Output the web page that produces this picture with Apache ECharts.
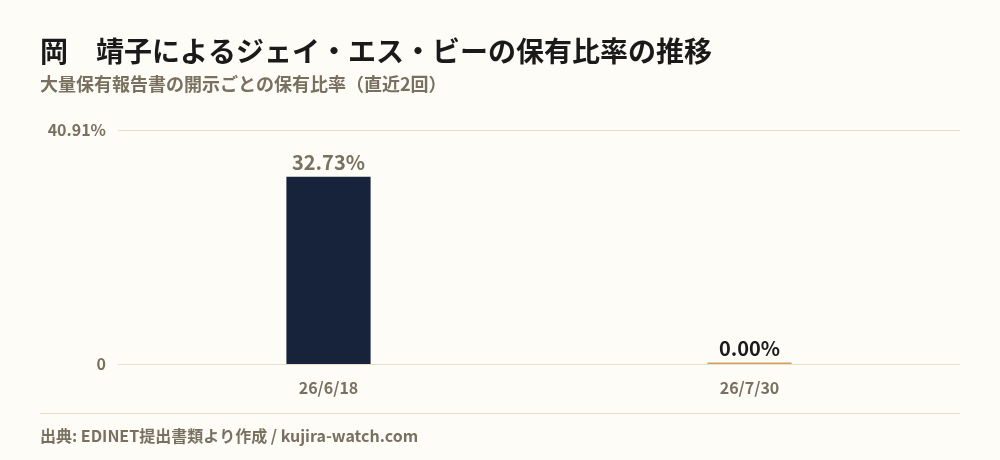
<!DOCTYPE html>
<html><head><meta charset="utf-8">
<script src="https://cdn.jsdelivr.net/npm/echarts@6/dist/echarts.min.js"></script>
<style>html,body{margin:0;padding:0;background:#fdfcf7;}#c{width:1000px;height:460px;}</style>
</head><body><div id="c"></div>
<script>
const categories = ['26/6/18', '26/7/30'];
const values = [32.73, 0.00];
const barColors = ['#17223b', '#d4a25e'];
const labelColors = ['#7a7060', '#1a1a1a'];
const axisMax = 40.91;
const yTickLabels = ['0', '40.91%'];

const chart = echarts.init(document.getElementById('c'));
const font = '"Noto Sans CJK JP", "Noto Sans", sans-serif';
chart.setOption({
  backgroundColor: '#fdfcf7',
  animation: false,
  textStyle: { fontFamily: font },
  title: [
    { text: '岡　靖子によるジェイ・エス・ビーの保有比率の推移', left: 40, top: 37, padding: 0,
      textStyle: { fontFamily: font, fontSize: 28, fontWeight: 'bold', color: '#1a1a1a' } },
    { text: '大量保有報告書の開示ごとの保有比率（直近2回）', left: 40, top: 75, padding: 0,
      textStyle: { fontFamily: font, fontSize: 18, fontWeight: 'bold', color: '#7a7060' } },
    { text: '出典: EDINET提出書類より作成 / kujira-watch.com', left: 40, top: 428, padding: 0,
      textStyle: { fontFamily: font, fontSize: 16, fontWeight: 'bold', color: '#7a7060' } }
  ],
  graphic: [
    { type: 'line', shape: { x1: 40, y1: 413.5, x2: 960, y2: 413.5 },
      style: { stroke: '#e6dcc6', lineWidth: 1 } }
  ],
  grid: { left: 118, right: 40, top: 130, bottom: 96 },
  xAxis: {
    type: 'category', data: categories,
    axisLine: { show: false }, axisTick: { show: false },
    axisLabel: { color: '#7a7060', fontSize: 16, fontWeight: 'bold', margin: 16, fontFamily: font }
  },
  yAxis: {
    type: 'value', min: 0, max: axisMax, interval: axisMax,
    axisLine: { show: false }, axisTick: { show: false },
    splitLine: { lineStyle: { color: '#e8dfc8', width: 1 } },
    axisLabel: { color: '#7a7060', fontSize: 16, fontWeight: 'bold', margin: 12, fontFamily: font,
      formatter: (v, i) => yTickLabels[i] }
  },
  series: [{
    type: 'bar', barWidth: '20%', barMinHeight: 1.5, z: 5,
    data: values.map((v, i) => ({
      value: v,
      itemStyle: { color: barColors[i] },
      label: { color: labelColors[i] }
    })),
    label: { show: true, position: 'top', distance: 4, fontSize: 20, fontWeight: 600, fontFamily: font,
      formatter: p => p.value.toFixed(2) + '%' }
  }]
});
</script></body></html>
